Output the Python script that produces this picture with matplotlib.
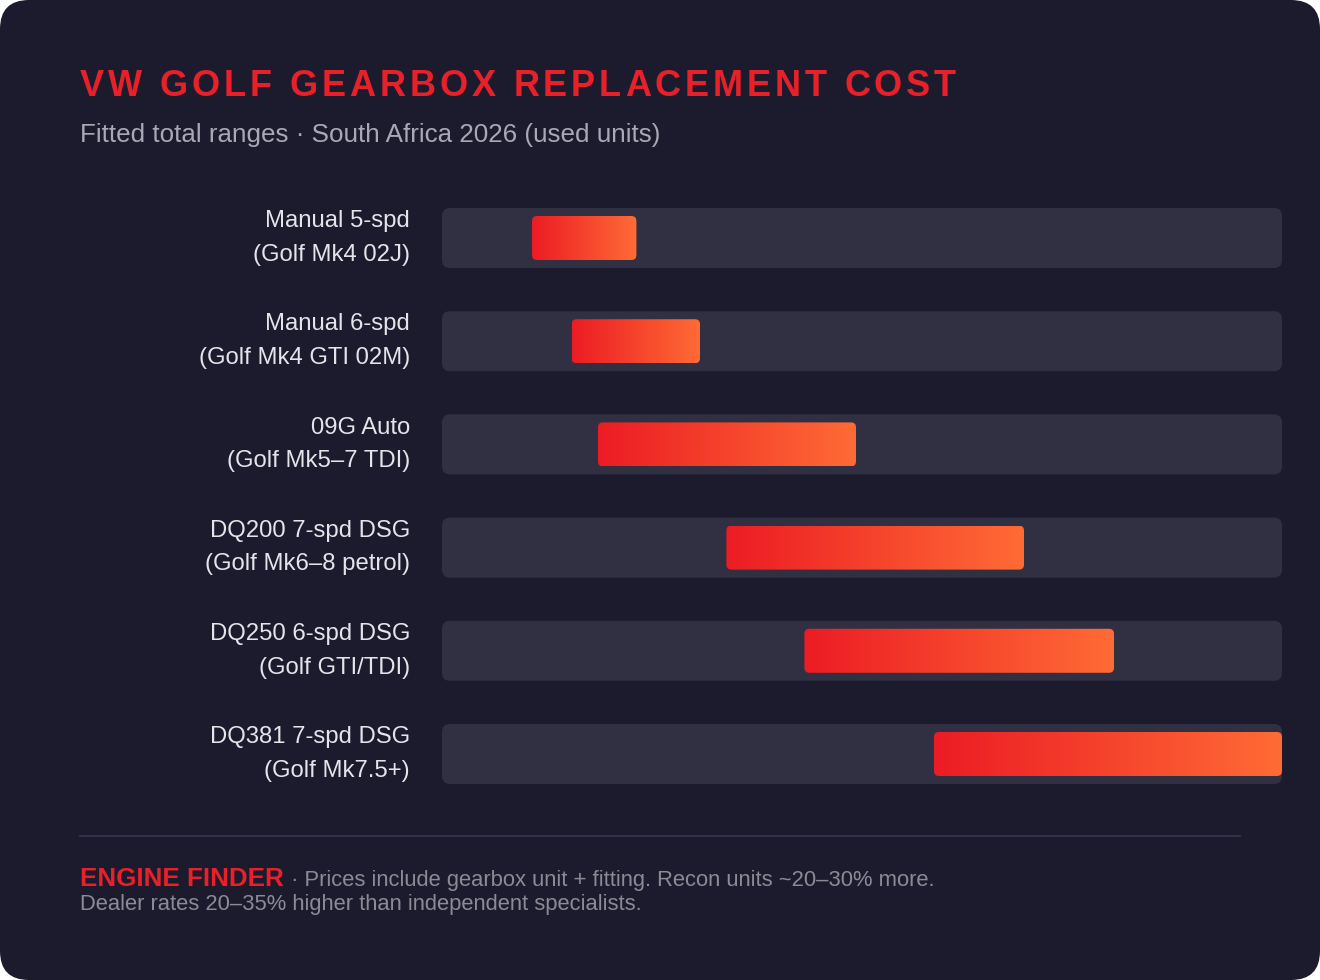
import numpy as np
import matplotlib.pyplot as plt
from matplotlib.patches import FancyBboxPatch
from matplotlib.colors import LinearSegmentedColormap
from matplotlib.lines import Line2D
from matplotlib.transforms import blended_transform_factory, offset_copy

plt.rcParams['font.family'] = ['Liberation Sans', 'DejaVu Sans']

# data (fitted total cost, ZAR)
gearboxes = ['Manual 5-spd\n(Golf Mk4 02J)',
             'Manual 6-spd\n(Golf Mk4 GTI 02M)',
             '09G Auto\n(Golf Mk5–7 TDI)',
             'DQ200 7-spd DSG\n(Golf Mk6–8 petrol)',
             'DQ250 6-spd DSG\n(Golf GTI/TDI)',
             'DQ381 7-spd DSG\n(Golf Mk7.5+)']
cost_low = [7500, 10800, 13000, 23700, 30200, 41000]
cost_high = [16200, 21500, 34500, 48500, 56000, 70000]
scale_max = 70000

W, H = 1320, 980
bg_col = '#1c1b2d'
track_col = '#313043'
red = '#e8202a'

fig = plt.figure(figsize=(W / 100, H / 100), dpi=100)
fig.patch.set_facecolor('white')

# card background with rounded corners
card = FancyBboxPatch((0, 0), 1, 1, boxstyle='round,pad=0,rounding_size=0.022',
                      mutation_aspect=W / H, transform=fig.transFigure,
                      facecolor=bg_col, edgecolor='none', zorder=0)
fig.add_artist(card)

# title, letter spaced: each char placed after the previous one
title = 'VW GOLF GEARBOX REPLACEMENT COST'
prev = fig.text(80 / W, 1 - 96 / H, title[0], fontsize=26, fontweight='bold',
                color=red, va='baseline')
for ch in title[1:]:
    prev = fig.add_artist(plt.Annotation(ch, xy=(1, 0), xycoords=prev,
                                         xytext=(2.8, 0), textcoords='offset points',
                                         fontsize=26, fontweight='bold', color=red,
                                         va='bottom', ha='left'))

fig.text(80 / W, 1 - 142 / H, 'Fitted total ranges · South Africa 2026 (used units)',
         fontsize=18.7, color='#a9a9b5', va='baseline')

# bars
row_px = 103.2
ax_h_px = row_px * 6
ax = fig.add_axes([442 / W, 1 - (238 - row_px / 2 + ax_h_px) / H, 840 / W, ax_h_px / H])
ax.axis('off')

xu = scale_max / 840      # x units per pixel
yu = 6 / ax_h_px          # y units per pixel
asp = yu / xu

cmap = LinearSegmentedColormap.from_list('grad', ['#ec1c24', '#ff6b35'])
grad = np.linspace(0, 1, 256).reshape(1, -1)

track_h = 60 * yu
bar_h = 44 * yu
for i, (lo, hi) in enumerate(zip(cost_low, cost_high)):
    track = FancyBboxPatch((0, i - track_h / 2), scale_max, track_h,
                           boxstyle=f'round,pad=0,rounding_size={8 * xu}',
                           mutation_aspect=asp, facecolor=track_col,
                           edgecolor='none', zorder=1)
    ax.add_patch(track)
    bar = FancyBboxPatch((lo, i - bar_h / 2), hi - lo, bar_h,
                         boxstyle=f'round,pad=0,rounding_size={5 * xu}',
                         mutation_aspect=asp, facecolor='none',
                         edgecolor='none', zorder=2)
    ax.add_patch(bar)
    im = ax.imshow(grad, cmap=cmap, aspect='auto', zorder=3,
                   extent=(lo, hi, i + bar_h / 2, i - bar_h / 2))
    im.set_clip_path(bar)

ax.set_xlim(0, scale_max)
ax.set_ylim(5.5, -0.5)

lab_trans = offset_copy(blended_transform_factory(ax.transAxes, ax.transData),
                        fig=fig, x=-32, y=0, units='dots')
for i, name in enumerate(gearboxes):
    ax.text(0, i, name, transform=lab_trans, ha='right', va='center',
            fontsize=17.2, color='#e4e4ea', linespacing=1.68)

# footer
fig.add_artist(Line2D([80 / W, 1240 / W], [1 - 836 / H] * 2,
                      color='#35344a', lw=1.3))
brand = fig.text(80 / W, 1 - 886 / H, 'ENGINE FINDER', fontsize=18.7,
                 fontweight='bold', color=red, va='baseline')
fig.add_artist(plt.Annotation(' · Prices include gearbox unit + fitting. Recon units ~20–30% more.',
                              xy=(1, H - 886), xycoords=(brand, 'figure pixels'),
                              xytext=(1, 0), textcoords='offset points',
                              fontsize=15.8, color='#8b8b96', va='baseline'))
fig.text(80 / W, 1 - 910 / H, 'Dealer rates 20–35% higher than independent specialists.',
         fontsize=15.8, color='#8b8b96', va='baseline')

fig.savefig('out.png', dpi=100, facecolor=fig.get_facecolor())
